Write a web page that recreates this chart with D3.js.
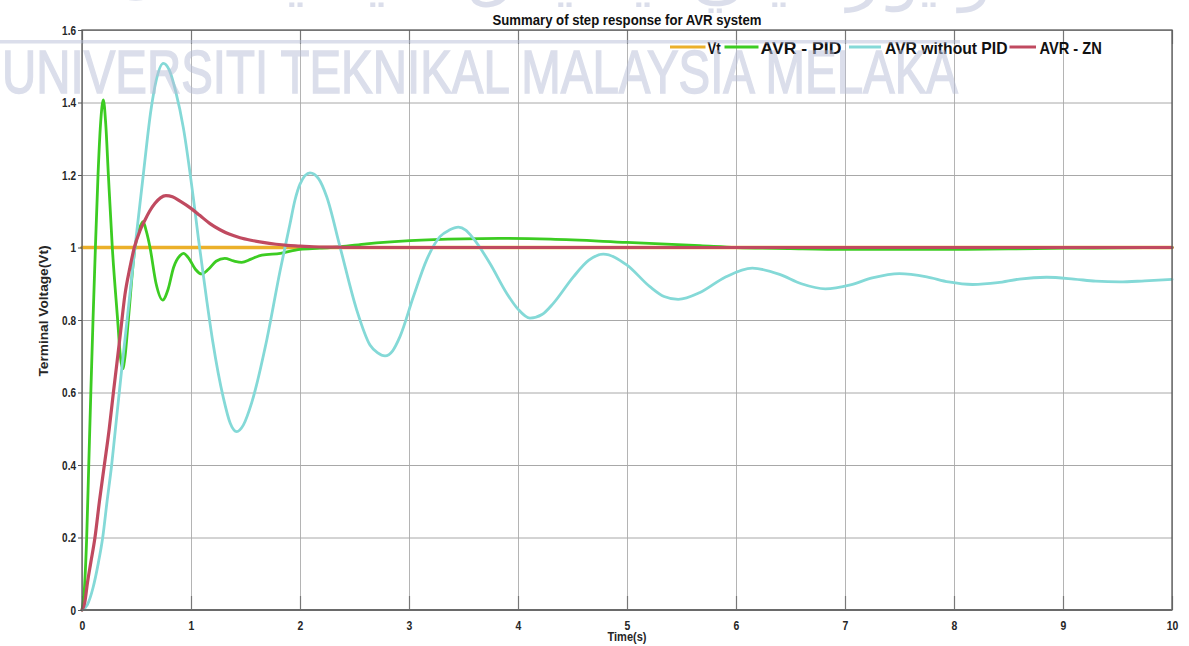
<!DOCTYPE html>
<html>
<head>
<meta charset="utf-8">
<script src="https://cdn.jsdelivr.net/npm/d3@7/dist/d3.min.js"></script>
<style>
  body { margin: 0; background: #fff; }
  svg { display: block; }
  text { font-family: "Liberation Sans", Arial, sans-serif; }
</style>
</head>
<body>
<svg id="chart" width="1189" height="646"></svg>
<script>
// ---- axis ticks ----
const xTicks = [0, 1, 2, 3, 4, 5, 6, 7, 8, 9, 10];
const yTicks = [0, 0.2, 0.4, 0.6, 0.8, 1.0, 1.2, 1.4, 1.6];
const yTickLabels = ["0", "0.2", "0.4", "0.6", "0.8", "1", "1.2", "1.4", "1.6"];

// ---- series ----
const seriesNames = ["Vt", "AVR - PID", "AVR without PID", "AVR - ZN"];
const seriesColors = ["#ebb02a", "#3ccc22", "#84d9d7", "#c04a60"];

// Reference terminal voltage (unit step)
const vtTime = [0, 10];
const vtVolt = [1, 1];

// AVR with PID controller
const pidTime = [0, 0.02, 0.043, 0.062, 0.081, 0.101, 0.123, 0.147, 0.17, 0.196, 0.218, 0.242, 0.278, 0.327, 0.352, 0.373, 0.395, 0.425, 0.486, 0.525, 0.56, 0.59, 0.624, 0.68, 0.74, 0.79, 0.84, 0.9, 0.93, 0.98, 1.04, 1.098, 1.16, 1.23, 1.31, 1.39, 1.465, 1.55, 1.65, 1.82, 2.0, 2.18, 2.37, 2.61, 3.01, 3.5, 3.83, 4.3, 5.0, 5.67, 6.0, 6.5, 7.0, 7.5, 8.0, 8.5, 9.0, 9.5, 10];
const pidVolt = [0, 0.05, 0.2, 0.4, 0.6, 0.8, 1.0, 1.2, 1.34, 1.407, 1.34, 1.2, 1.0, 0.8, 0.7, 0.665, 0.7, 0.8, 1.0, 1.05, 1.071, 1.045, 1.0, 0.9, 0.855, 0.885, 0.945, 0.978, 0.984, 0.97, 0.94, 0.927, 0.94, 0.962, 0.97, 0.963, 0.959, 0.968, 0.979, 0.984, 0.995, 0.998, 1.002, 1.01, 1.019, 1.024, 1.025, 1.023, 1.014, 1.005, 1.0, 0.997, 0.995, 0.995, 0.995, 0.996, 0.998, 0.999, 1.0];

// AVR without controller
const noPidTime = [0, 0.05, 0.1, 0.15, 0.19, 0.23, 0.272, 0.3, 0.333, 0.37, 0.41, 0.486, 0.562, 0.633, 0.68, 0.746, 0.8, 0.86, 0.93, 1.02, 1.07, 1.144, 1.2, 1.297, 1.36, 1.419, 1.48, 1.557, 1.695, 1.817, 1.908, 1.954, 2.0, 2.092, 2.17, 2.245, 2.367, 2.52, 2.642, 2.71, 2.78, 2.85, 2.917, 3.04, 3.162, 3.284, 3.37, 3.453, 3.52, 3.59, 3.743, 3.896, 4.0, 4.11, 4.22, 4.324, 4.508, 4.65, 4.783, 4.997, 5.21, 5.34, 5.47, 5.67, 5.9, 6.15, 6.4, 6.6, 6.82, 7.05, 7.25, 7.5, 7.75, 7.95, 8.17, 8.4, 8.6, 8.85, 9.1, 9.3, 9.52, 9.75, 10];
const noPidVolt = [0, 0.015, 0.06, 0.13, 0.2, 0.3, 0.4, 0.48, 0.575, 0.68, 0.79, 1.0, 1.2, 1.38, 1.46, 1.508, 1.49, 1.43, 1.33, 1.14, 1.02, 0.855, 0.74, 0.585, 0.515, 0.492, 0.51, 0.572, 0.745, 0.935, 1.065, 1.131, 1.175, 1.206, 1.19, 1.14, 1.002, 0.828, 0.731, 0.71, 0.701, 0.715, 0.754, 0.864, 0.966, 1.03, 1.048, 1.056, 1.048, 1.025, 0.956, 0.874, 0.83, 0.805, 0.815, 0.846, 0.919, 0.965, 0.982, 0.952, 0.892, 0.865, 0.857, 0.876, 0.918, 0.943, 0.926, 0.9, 0.886, 0.897, 0.916, 0.928, 0.919, 0.905, 0.898, 0.903, 0.913, 0.918, 0.913, 0.907, 0.905, 0.908, 0.912];

// AVR with Ziegler-Nichols tuned controller
const znTime = [0, 0.025, 0.05, 0.08, 0.119, 0.16, 0.205, 0.25, 0.288, 0.32, 0.355, 0.394, 0.44, 0.48, 0.53, 0.578, 0.62, 0.67, 0.72, 0.77, 0.83, 0.9, 1.0, 1.083, 1.174, 1.266, 1.35, 1.45, 1.55, 1.66, 1.78, 1.88, 2.0, 2.12, 2.3, 2.6, 10];
const znVolt = [0, 0.02, 0.075, 0.13, 0.2, 0.3, 0.4, 0.5, 0.6, 0.68, 0.77, 0.87, 0.945, 1.0, 1.045, 1.076, 1.1, 1.122, 1.137, 1.143, 1.14, 1.128, 1.108, 1.088, 1.066, 1.049, 1.037, 1.027, 1.02, 1.014, 1.009, 1.006, 1.004, 1.002, 1.001, 1.0, 1.0];

const seriesTimes = [vtTime, pidTime, noPidTime, znTime];
const seriesVolts = [vtVolt, pidVolt, noPidVolt, znVolt];
const seriesWidths = [3.6, 2.8, 2.8, 3.2];

// ---- layout ----
const svg = d3.select("#chart");
const plot = { left: 82, right: 1172, top: 30, bottom: 610 };

const x = d3.scaleLinear().domain([0, 10]).range([plot.left, plot.right]);
const y = d3.scaleLinear().domain([0, 1.6]).range([plot.bottom, plot.top]);

// condense glyph widths to the narrow look of the figure text
function condense(sel, f) {
  sel.each(function () {
    const w = this.getComputedTextLength();
    d3.select(this).attr("textLength", w * f).attr("lengthAdjust", "spacingAndGlyphs");
  });
}

// background of axes
svg.append("rect")
  .attr("x", plot.left).attr("y", plot.top)
  .attr("width", plot.right - plot.left).attr("height", plot.bottom - plot.top)
  .attr("fill", "#fff");

// grid lines
const gridX = svg.append("g")
  .attr("transform", `translate(0,${plot.bottom})`)
  .call(d3.axisBottom(x).tickValues(xTicks).tickSize(-(plot.bottom - plot.top)).tickFormat(""));
gridX.select(".domain").remove();
gridX.selectAll("line").attr("stroke", "#b4b4b4").attr("stroke-width", 1);

const gridY = svg.append("g")
  .attr("transform", `translate(${plot.left},0)`)
  .call(d3.axisLeft(y).tickValues(yTicks).tickSize(-(plot.right - plot.left)).tickFormat(""));
gridY.select(".domain").remove();
gridY.selectAll("line").attr("stroke", "#a8a8a8").attr("stroke-width", 1);

// inner tick marks, bottom and top
const tickIn = 14;
const bottomTicks = svg.append("g")
  .attr("transform", `translate(0,${plot.bottom})`)
  .call(d3.axisBottom(x).tickValues(xTicks).tickSize(-tickIn).tickFormat(""));
bottomTicks.select(".domain").remove();
bottomTicks.selectAll("line").attr("stroke", "#777").attr("stroke-width", 1.2);

const topTicks = svg.append("g")
  .attr("transform", `translate(0,${plot.top})`)
  .call(d3.axisTop(x).tickValues(xTicks).tickSize(-tickIn).tickFormat(""));
topTicks.select(".domain").remove();
topTicks.selectAll("line").attr("stroke", "#777").attr("stroke-width", 1.2);

// curves
const line = d3.line()
  .x(d => x(d[0]))
  .y(d => y(d[1]))
  .curve(d3.curveMonotoneX);

const curves = svg.append("g");
seriesTimes.forEach((ts, i) => {
  const pts = ts.map((t, k) => [t, seriesVolts[i][k]]);
  curves.append("path")
    .datum(pts)
    .attr("d", line)
    .attr("fill", "none")
    .attr("stroke", seriesColors[i])
    .attr("stroke-width", seriesWidths[i])
    .attr("stroke-linejoin", "round")
    .attr("stroke-linecap", "round");
});

// axes box
svg.append("rect")
  .attr("x", plot.left).attr("y", plot.top)
  .attr("width", plot.right - plot.left).attr("height", plot.bottom - plot.top)
  .attr("fill", "none").attr("stroke", "#5a5a5a").attr("stroke-width", 1.3);
svg.append("line")
  .attr("x1", plot.left).attr("x2", plot.right)
  .attr("y1", plot.bottom).attr("y2", plot.bottom)
  .attr("stroke", "#6a6a6a").attr("stroke-width", 2);

// tick labels
const xAxis = svg.append("g")
  .attr("transform", `translate(0,${plot.bottom})`)
  .call(d3.axisBottom(x).tickValues(xTicks).tickSize(0).tickPadding(11).tickFormat(d3.format("d")));
xAxis.select(".domain").remove();
xAxis.selectAll("text")
  .attr("fill", "#262626").attr("font-size", 13).attr("font-weight", "bold")
  .attr("font-family", "Liberation Sans, Arial, sans-serif")
  .call(condense, 0.8);

const yAxis = svg.append("g")
  .attr("transform", `translate(${plot.left},0)`)
  .call(d3.axisLeft(y).tickValues(yTicks).tickSize(4).tickPadding(2)
    .tickFormat((d, i) => yTickLabels[i]));
yAxis.select(".domain").remove();
yAxis.selectAll("line").attr("stroke", "#555");
yAxis.selectAll("text")
  .attr("fill", "#262626").attr("font-size", 12.5).attr("font-weight", "bold")
  .attr("font-family", "Liberation Sans, Arial, sans-serif")
  .call(condense, 0.8);

// axis titles
svg.append("text")
  .attr("x", (plot.left + plot.right) / 2).attr("y", 641)
  .attr("text-anchor", "middle")
  .attr("font-size", 13).attr("font-weight", "bold").attr("fill", "#262626")
  .text("Time(s)")
  .call(condense, 0.85);

svg.append("text")
  .attr("transform", "translate(48,311) rotate(-90)")
  .attr("text-anchor", "middle")
  .attr("font-size", 13).attr("font-weight", "bold").attr("fill", "#262626")
  .attr("textLength", 131).attr("lengthAdjust", "spacingAndGlyphs")
  .text("Terminal Voltage(Vt)");

// chart title
svg.append("text")
  .attr("x", 627).attr("y", 25)
  .attr("text-anchor", "middle")
  .attr("font-size", 15).attr("font-weight", "bold").attr("fill", "#111")
  .attr("textLength", 269).attr("lengthAdjust", "spacingAndGlyphs")
  .text("Summary of step response for AVR system");

// legend (no frame), one row of line sample + label
const legendY = 47;
const legendItems = [
  { line: [670, 705.5], textX: 707.5, textW: 13.3 },
  { line: [724.5, 758.5], textX: 760.5, textW: 81 },
  { line: [849, 881], textX: 885, textW: 122.5 },
  { line: [1009.5, 1036], textX: 1039.5, textW: 62.3 }
];
const legend = svg.append("g");
legendItems.forEach((it, i) => {
  legend.append("line")
    .attr("x1", it.line[0]).attr("x2", it.line[1])
    .attr("y1", legendY).attr("y2", legendY)
    .attr("stroke", seriesColors[i]).attr("stroke-width", 3);
  legend.append("text")
    .attr("x", it.textX).attr("y", legendY + 6.5)
    .attr("font-size", 17).attr("font-weight", "bold").attr("fill", "#111")
    .attr("textLength", it.textW).attr("lengthAdjust", "spacingAndGlyphs")
    .text(seriesNames[i]);
});

// university watermark over the figure (Jawi line runs off the top edge)
const mark = svg.append("g").attr("opacity", 0.5).attr("pointer-events", "none");
mark.append("text")
  .attr("x", 560).attr("y", -2)
  .attr("text-anchor", "middle")
  .attr("direction", "rtl")
  .attr("font-family", "DejaVu Sans, sans-serif")
  .attr("font-size", 62).attr("fill", "#b8bfd8")
  .attr("textLength", 900).attr("lengthAdjust", "spacingAndGlyphs")
  .text("اونيۏرسيتي تيكنيكل مليسيا ملاک");
mark.append("rect")
  .attr("x", 0).attr("y", 40).attr("width", 960).attr("height", 3.5)
  .attr("fill", "#b8bfd8");
mark.append("text")
  .attr("x", 2).attr("y", 93)
  .attr("font-size", 62).attr("fill", "#b8bfd8")
  .attr("stroke", "#b8bfd8").attr("stroke-width", 1.5)
  .attr("textLength", 956).attr("lengthAdjust", "spacingAndGlyphs")
  .text("UNIVERSITI TEKNIKAL MALAYSIA MELAKA");
</script>
</body>
</html>
